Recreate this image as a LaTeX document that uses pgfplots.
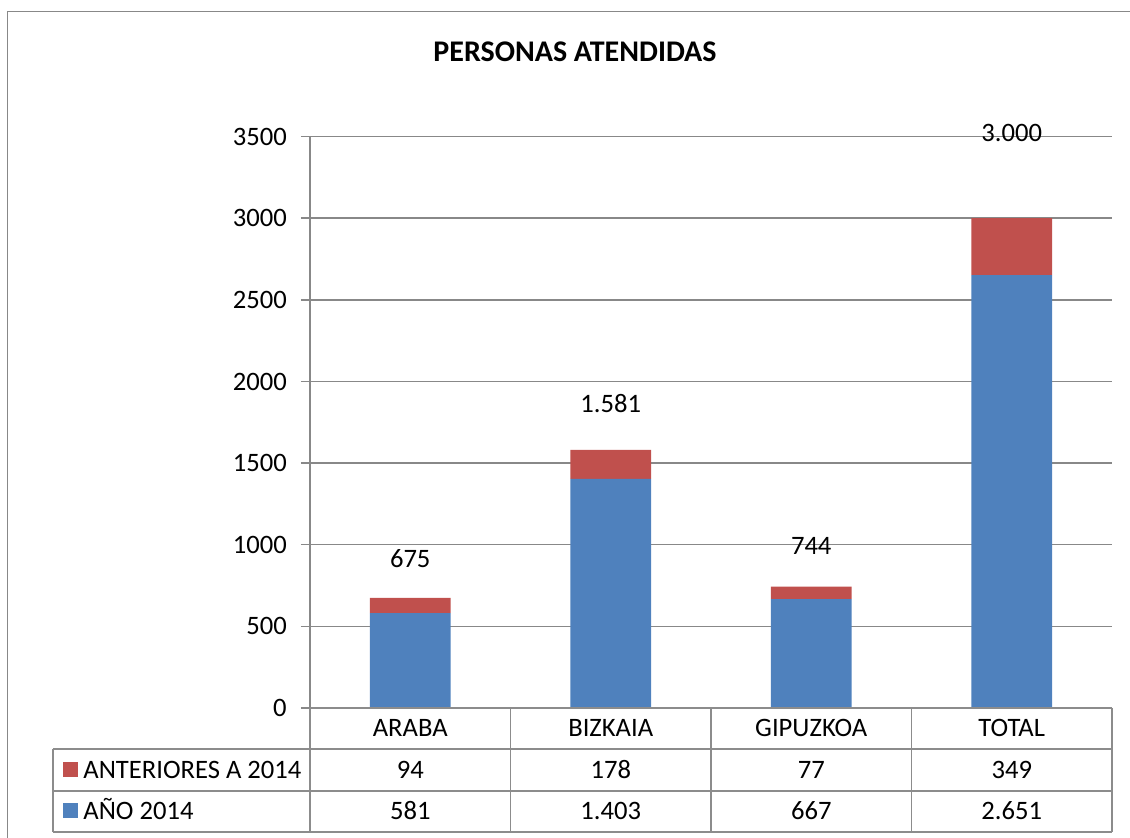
\documentclass[border=0pt]{standalone}
\usepackage{fontspec}
\setmainfont{Carlito}
\usepackage{pgfplots}
\pgfplotsset{compat=1.18}
\definecolor{cblue}{HTML}{4F81BD}
\definecolor{cred}{HTML}{C0504D}
\definecolor{cgrid}{HTML}{888888}
\definecolor{ctab}{HTML}{8C8C8C}
\begin{document}
\begin{tikzpicture}[font=\fontsize{13.3}{16}\selectfont]
\begin{axis}[
  at={(0,0)}, anchor=south west,
  scale only axis, width=401pt, height=285.7pt,
  xmin=-0.5, xmax=3.5, ymin=0, ymax=3500,
  ybar stacked, bar width=40.35pt,
  axis x line*=bottom, axis y line*=left,
  axis line style={cgrid, line width=0.75pt},
  xtick={0,1,2,3}, xticklabels={ARABA,BIZKAIA,GIPUZKOA,TOTAL},
  x tick style={draw=none},
  xticklabel style={anchor=center, yshift=-5.25pt},
  ytick={0,500,...,3500},
  ymajorgrids, grid style={cgrid, line width=0.75pt},
  y tick style={cgrid, line width=0.75pt},
  tick align=outside, major tick length=4.5pt,
  yticklabel style={xshift=-3.6pt},
  scaled y ticks=false,
  /pgf/number format/1000 sep={},
  /pgf/number format/assume math mode=true,
  title={\fontsize{15}{18}\selectfont\bfseries PERSONAS ATENDIDAS},
  title style={at={(0.3304,1.127)}, anchor=center, yshift=0pt},
]
\addplot[fill=cblue, draw=none] coordinates {(0,581) (1,1403) (2,667) (3,2651)};
\addplot[fill=cred, draw=none] coordinates {(0,94) (1,178) (2,77) (3,349)};
\end{axis}
\begin{axis}[
  at={(0,0)}, anchor=south west,
  scale only axis, width=401pt, height=285.7pt,
  xmin=-0.5, xmax=3.5, ymin=0, ymax=3500,
  hide axis, clip=false,
]
\addplot[draw=none, nodes near coords, point meta=explicit symbolic,
  every node near coord/.append style={anchor=center, font=\fontsize{13.3}{16}\selectfont}]
  coordinates {(0,913)[675] (1,1868)[1.581] (2,992)[744] (3,3523)[3.000]};
\end{axis}
% data table
\draw[ctab, line width=0.8pt]
  (0pt,0pt) -- (401pt,0pt)
  (-128.5pt,-20.5pt) -- (401pt,-20.5pt)
  (-128.5pt,-41.5pt) -- (401pt,-41.5pt)
  (-128.5pt,-61.9pt) -- (401pt,-61.9pt)
  (-128.5pt,-20.5pt) -- (-128.5pt,-61.9pt)
  (0pt,0pt) -- (0pt,-61.9pt)
  (100.25pt,0pt) -- (100.25pt,-61.9pt)
  (200.5pt,0pt) -- (200.5pt,-61.9pt)
  (300.75pt,0pt) -- (300.75pt,-61.9pt)
  (401pt,0pt) -- (401pt,-61.9pt);
\fill[cred] (-123.5pt,-27pt) rectangle (-116pt,-34.5pt);
\fill[cblue] (-123.5pt,-47.6pt) rectangle (-116pt,-55.1pt);
\begin{scope}[every node/.style={anchor=base, inner sep=0pt}]
\node[anchor=base west] at (-113.5pt,-35.3pt) {ANTERIORES A 2014};
\node[anchor=base west] at (-113.5pt,-55.6pt) {AÑO 2014};
\node at (50.125pt,-35.3pt) {94};
\node at (150.375pt,-35.3pt) {178};
\node at (250.625pt,-35.3pt) {77};
\node at (350.875pt,-35.3pt) {349};
\node at (50.125pt,-55.6pt) {581};
\node at (150.375pt,-55.6pt) {1.403};
\node at (250.625pt,-55.6pt) {667};
\node at (350.875pt,-55.6pt) {2.651};
\end{scope}
% outer border
\draw[cgrid, line width=0.9pt] (-151.25pt,-70pt) -- (-151.25pt,348.25pt) -- (420pt,348.25pt);
\pgfresetboundingbox
\path[use as bounding box] (-155pt,-65pt) rectangle (410pt,354pt);
\end{tikzpicture}
\end{document}
